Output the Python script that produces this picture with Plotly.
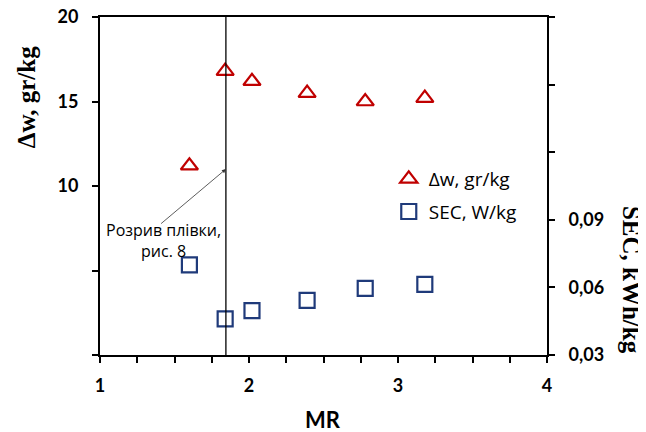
import plotly.graph_objects as go

mr = [1.60, 1.84, 2.02, 2.39, 2.78, 3.18]
dw = [11.2, 16.8, 16.2, 15.5, 15.0, 15.2]
sec = [0.070, 0.046, 0.0497, 0.0542, 0.0596, 0.0613]

x_ticks = [1, 1.25, 1.5, 1.75, 2, 2.25, 2.5, 2.75, 3, 3.25, 3.5, 3.75, 4]
x_labels = ["1", "", "", "", "2", "", "", "", "3", "", "", "", "4"]
y1_ticks = [0, 5, 10, 15, 20]
y1_labels = ["", "", "10", "15", "20"]
y2_ticks = [0.03, 0.06, 0.09, 0.12, 0.15, 0.18]
y2_labels = ["0,03", "0,06", "0,09", "", "", ""]

break_x = 1.845
note_text = "Розрив плівки,<br>рис. 8"

RED = "#C00000"
NAVY = "#1F3A7A"
tickfont = dict(family="Lato", size=18, color="black", weight="bold")

fig = go.Figure()
fig.add_trace(go.Scatter(
    x=mr, y=dw, mode="markers", name="Δw, gr/kg", legendgroup="a",
    marker=dict(symbol="triangle-up-open", size=15, color=RED, line=dict(width=2.2, color=RED)),
))
fig.add_trace(go.Scatter(
    x=mr, y=sec, mode="markers", name="SEC, W/kg", yaxis="y2", legendgroup="b",
    marker=dict(symbol="square-open", size=15, color=NAVY, line=dict(width=2.2, color=NAVY)),
))

axis_common = dict(showline=True, linecolor="black", linewidth=2,
                   ticks="outside", ticklen=6, tickwidth=1.5, tickcolor="black",
                   ticklabeloverflow="allow", automargin=False,
                   showgrid=False, zeroline=False, tickfont=tickfont)

fig.update_layout(
    width=646, height=432,
    margin=dict(l=92, r=107, t=9, b=85, autoexpand=False),
    plot_bgcolor="white", paper_bgcolor="white",
    showlegend=True,
    legend=dict(x=0.646, y=0.577, xanchor="left", yanchor="top",
                font=dict(family="Open Sans", size=19, color="black"),
                traceorder="grouped", tracegroupgap=5, bgcolor="rgba(0,0,0,0)",
                itemwidth=30),
    xaxis=dict(range=[1, 4], tickvals=x_ticks, ticktext=x_labels, mirror=True,
               ticklabelstandoff=7, **axis_common),
    yaxis=dict(range=[0, 20], tickvals=y1_ticks, ticktext=y1_labels,
               ticklabelstandoff=10, **axis_common),
    yaxis2=dict(range=[0.03, 0.18], tickvals=y2_ticks, ticktext=y2_labels,
                overlaying="y", side="right", ticklabelstandoff=10, **axis_common),
)

fig.add_shape(type="line", xref="x", yref="paper", x0=break_x, x1=break_x, y0=0, y1=1,
              line=dict(color="black", width=1.3))

fig.add_annotation(x=break_x, y=11.0, xref="x", yref="y", ax=1.40, ay=7.7, axref="x", ayref="y",
                   text="", showarrow=True, arrowhead=2, arrowsize=1, arrowwidth=0.8,
                   arrowcolor="#333333", standoff=0)
fig.add_annotation(x=1.425, y=6.8, xref="x", yref="y", text=note_text, showarrow=False,
                   xanchor="center", yanchor="middle",
                   font=dict(family="Open Sans", size=16, color="black"))

fig.add_annotation(x=0.499, y=-0.192, xref="paper", yref="paper", text="<b>MR</b>", showarrow=False,
                   xanchor="center", yanchor="middle",
                   font=dict(family="Lato", size=22, color="black"))
fig.add_annotation(x=-0.164, y=0.762, xref="paper", yref="paper", text="<b>Δw, gr/kg</b>",
                   textangle=-90, showarrow=False, xanchor="center", yanchor="middle",
                   font=dict(family="Liberation Serif", size=25, color="black"))
fig.add_annotation(x=1.188, y=0.222, xref="paper", yref="paper", text="<b>SEC, kWh/kg</b>",
                   textangle=90, showarrow=False, xanchor="center", yanchor="middle",
                   font=dict(family="Liberation Serif", size=25, color="black"))

fig.write_html("out.html")
